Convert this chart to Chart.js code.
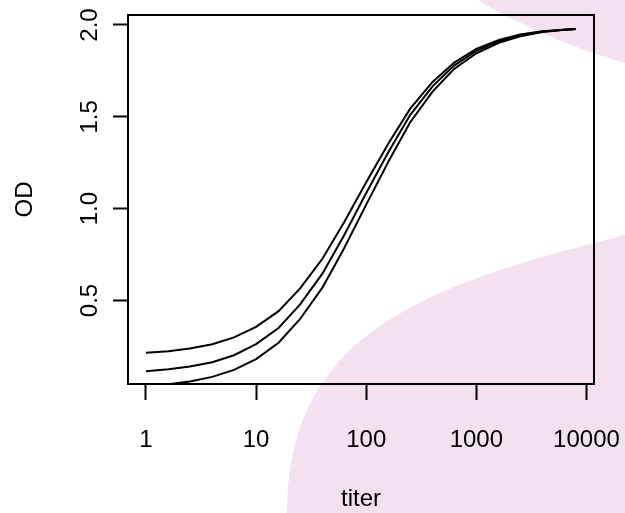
<!DOCTYPE html>
<html>
<head>
<meta charset="utf-8">
<script src="https://cdn.jsdelivr.net/npm/chart.js@4"></script>
<style>
  html, body { margin: 0; padding: 0; background: #ffffff; }
  #wrap { position: relative; width: 625px; height: 513px; overflow: hidden; }
  #bg { position: absolute; left: 0; top: 0; }
  #odChart { position: absolute; left: 0; top: 0; }
</style>
</head>
<body>
<div id="wrap">
  <!-- pale pink blobs behind the plot -->
  <svg id="bg" width="625" height="513">
    <path d="M478 0 C510 20 570 48 625 63 L625 0 Z" fill="#f3e1ef"/>
    <path d="M287 513 C287 333 425 285 625 235 L625 513 Z" fill="#f3e1ef"/>
  </svg>
  <canvas id="odChart" width="625" height="513"></canvas>
</div>
<script>
// dilution titers and OD readings for the three curves
const titer = [1, 1.6, 2.5, 4, 6.3, 10, 16, 25, 40, 63, 100, 160, 250, 400, 630, 1000, 1600, 2500, 4000, 6300, 8000];
const odTop = [0.215, 0.224, 0.239, 0.262, 0.299, 0.356, 0.442, 0.564, 0.727, 0.926, 1.144, 1.357, 1.543, 1.690, 1.796, 1.870, 1.918, 1.949, 1.966, 1.974, 1.978];
const odMid = [0.115, 0.125, 0.140, 0.164, 0.202, 0.262, 0.350, 0.477, 0.646, 0.855, 1.085, 1.311, 1.509, 1.666, 1.780, 1.859, 1.911, 1.945, 1.965, 1.974, 1.978];
const odLow = [0.035, 0.044, 0.059, 0.084, 0.122, 0.181, 0.270, 0.398, 0.570, 0.784, 1.022, 1.259, 1.469, 1.637, 1.761, 1.846, 1.903, 1.939, 1.962, 1.974, 1.978];

const xTicks = [1, 10, 100, 1000, 10000];
const yTicks = [0.5, 1.0, 1.5, 2.0];

const fontFamily = '"Liberation Sans", Arial, sans-serif';

function toPoints(ys) {
    return titer.map((t, i) => ({ x: t, y: ys[i] }));
}

function curve(ys) {
    return {
        data: toPoints(ys),
        borderColor: '#000',
        borderWidth: 2,
        pointRadius: 0,
        fill: false,
        tension: 0
    };
}

// plot box like R's box()
const boxPlugin = {
    id: 'box',
    afterDraw(chart) {
        const { ctx, chartArea: a } = chart;
        ctx.save();
        ctx.strokeStyle = '#000';
        ctx.lineWidth = 2;
        ctx.strokeRect(a.left, a.top, a.right - a.left, a.bottom - a.top);
        ctx.restore();
    }
};

new Chart(document.getElementById('odChart').getContext('2d'), {
    type: 'line',
    data: {
        datasets: [curve(odMid), curve(odTop), curve(odLow)]
    },
    options: {
        responsive: false,
        animation: false,
        devicePixelRatio: 1,
        layout: { padding: { top: 15, right: 31, left: 0, bottom: 0 } },
        plugins: {
            legend: { display: false },
            tooltip: { enabled: false }
        },
        scales: {
            x: {
                type: 'logarithmic',
                min: 0.687,
                max: 11700,
                afterBuildTicks: (s) => { s.ticks = xTicks.map(v => ({ value: v })); },
                afterFit: (s) => { s.height = 129; s.paddingLeft = 0; s.paddingRight = 0; },
                grid: { drawOnChartArea: false, drawTicks: true, tickLength: 16, tickColor: '#000', tickWidth: 2 },
                border: { display: false },
                ticks: {
                    autoSkip: false,
                    maxRotation: 0,
                    padding: 26,
                    color: '#000',
                    font: { family: fontFamily, size: 24 },
                    callback: (v) => String(v)
                },
                title: {
                    display: true,
                    text: 'titer',
                    color: '#000',
                    font: { family: fontFamily, size: 24 },
                    padding: { top: 0, bottom: -1 }
                }
            },
            y: {
                type: 'linear',
                min: 0.0452,
                max: 2.0544,
                afterBuildTicks: (s) => { s.ticks = yTicks.map(v => ({ value: v })); },
                afterFit: (s) => { s.width = 128; s.paddingTop = 0; s.paddingBottom = 0; },
                grid: { drawOnChartArea: false, drawTicks: true, tickLength: 15, tickColor: '#000', tickWidth: 2 },
                border: { display: false },
                ticks: {
                    autoSkip: false,
                    minRotation: 90,
                    maxRotation: 90,
                    crossAlign: 'center',
                    padding: 6,
                    color: '#000',
                    font: { family: fontFamily, size: 24 },
                    callback: (v) => Number(v).toFixed(1)
                },
                title: {
                    display: true,
                    text: 'OD',
                    color: '#000',
                    font: { family: fontFamily, size: 24 },
                    padding: { top: 11, bottom: 0 }
                }
            }
        }
    },
    plugins: [boxPlugin]
});
</script>
</body>
</html>
